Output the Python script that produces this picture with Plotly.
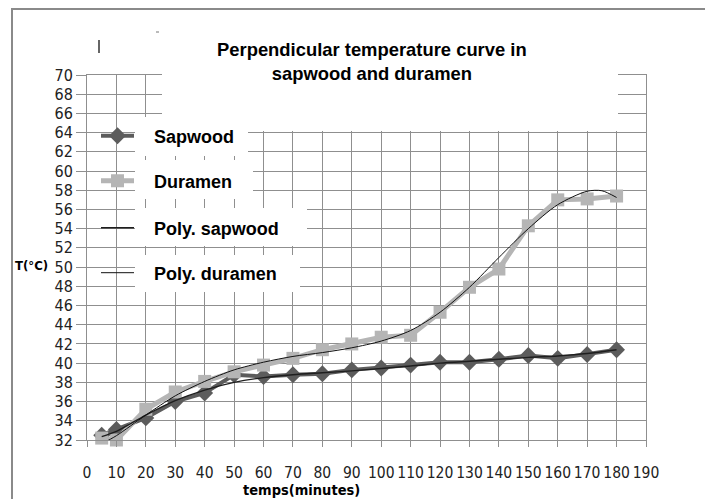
import plotly.graph_objects as go

# ---------------- data ----------------
time_min = [5, 10, 20, 30, 40, 50, 60, 70, 80, 90, 100, 110, 120, 130, 140, 150, 160, 170, 180]
sapwood = [32.5, 33.1, 34.3, 36.0, 36.9, 38.8, 38.6, 38.8, 38.9, 39.3, 39.5, 39.8, 40.1, 40.1, 40.4, 40.8, 40.5, 40.9, 41.4]
duramen = [32.2, 32.0, 35.2, 37.0, 38.1, 39.1, 39.8, 40.5, 41.4, 42.0, 42.7, 42.9, 45.3, 47.9, 49.8, 54.3, 57.0, 57.1, 57.4]

poly_sap_time = [5, 10, 20, 30, 40, 50, 60, 70, 80, 90, 100, 110, 120, 130, 140, 150, 160, 170, 180]
poly_sapwood = [32.35, 32.9, 34.6, 36.1, 37.2, 38.0, 38.5, 38.8, 39.0, 39.2, 39.45, 39.7, 40.0, 40.2, 40.4, 40.6, 40.75, 41.0, 41.4]

poly_dur_time = [5, 10, 20, 30, 40, 50, 60, 70, 80, 90, 100, 110, 120, 130, 140, 150, 160, 170, 175, 180]
poly_duramen = [31.6, 32.45, 34.6, 36.6, 38.1, 39.3, 40.1, 40.7, 41.1, 41.6, 42.3, 43.4, 45.3, 47.9, 51.0, 54.0, 56.5, 57.9, 57.95, 57.25]

x_ticks = list(range(0, 191, 10))
y_ticks = list(range(32, 71, 2))

title_lines = ["Perpendicular temperature curve in", "sapwood and duramen"]
legend_names = ["Sapwood", "Duramen", "Poly. sapwood", "Poly. duramen"]

# ---------------- geometry ----------------
# the page body has an 8px default margin, so the figure is drawn 8px smaller
# and every target pixel position below is given in window coordinates.
OFF = 8
W, H = 713 - OFF, 499 - OFF
PL, PR, PT, PB = 87, 646, 75, 440   # plot area in window pixels


def px_x(p):
    return (p - PL) / (PR - PL)


def px_y(p):
    return (PB - p) / (PB - PT)


NARROW = "DejaVu Sans Condensed, Liberation Sans Narrow, sans-serif"
ARIAL = "Arial, Liberation Sans, Helvetica, sans-serif"
GRID = "#8f8f8f"
NB = "\u00a0"

fig = go.Figure()

fig.add_trace(go.Scatter(
    x=time_min, y=sapwood, name=NB * 3 + legend_names[0], mode="lines+markers",
    line=dict(color="#5c5c5c", width=4),
    marker=dict(symbol="diamond", size=13, color="#5c5c5c"),
    cliponaxis=False, legend="legend"))
fig.add_trace(go.Scatter(
    x=time_min, y=duramen, name=NB * 3 + legend_names[1], mode="lines+markers",
    line=dict(color="#b5b5b5", width=5),
    marker=dict(symbol="square", size=13, color="#b5b5b5"),
    cliponaxis=False, legend="legend2"))
fig.add_trace(go.Scatter(
    x=poly_sap_time, y=poly_sapwood, name=NB * 3 + legend_names[2], mode="lines",
    line=dict(color="#1e1e1e", width=1.4, shape="spline", smoothing=0.8),
    legend="legend3"))
fig.add_trace(go.Scatter(
    x=poly_dur_time, y=poly_duramen, name=NB * 3 + legend_names[3], mode="lines",
    line=dict(color="#111111", width=1, shape="spline", smoothing=0.8),
    legend="legend4"))

legend_centers = [136, 181, 228, 273]
leg_common = dict(
    bgcolor="rgba(0,0,0,0)", borderwidth=0, itemwidth=33,
    font=dict(family=ARIAL, size=18, color="#000000", weight="bold"),
    xanchor="left", yanchor="middle", x=px_x(96))
layout_legends = {}
for i, cy in enumerate(legend_centers):
    key = "legend" if i == 0 else f"legend{i + 1}"
    layout_legends[key] = dict(leg_common, y=px_y(cy))

shapes = []
# outer frame
shapes.append(dict(type="rect", xref="paper", yref="paper",
                   x0=px_x(12), x1=px_x(740), y0=px_y(520), y1=px_y(9),
                   line=dict(color="#8a8a8a", width=2), fillcolor="rgba(0,0,0,0)", layer="above"))
# white box behind title
shapes.append(dict(type="rect", xref="paper", yref="paper",
                   x0=px_x(162), x1=px_x(618), y0=px_y(131), y1=px_y(15),
                   line=dict(width=0), fillcolor="white", layer="above"))
# white boxes behind legend texts
for (x0, x1, y0, y1) in [(135, 248, 117, 156), (135, 253, 160, 199),
                         (135, 307, 208, 246), (135, 300, 255, 292)]:
    shapes.append(dict(type="rect", xref="paper", yref="paper",
                       x0=px_x(x0), x1=px_x(x1), y0=px_y(y1), y1=px_y(y0),
                       line=dict(width=0), fillcolor="white", layer="above"))
# small stray fragments at top-left of the original
shapes.append(dict(type="line", xref="paper", yref="paper",
                   x0=px_x(99), x1=px_x(99), y0=px_y(53), y1=px_y(40),
                   line=dict(color="#333333", width=1.5), layer="above"))
shapes.append(dict(type="line", xref="paper", yref="paper",
                   x0=px_x(156), x1=px_x(159), y0=px_y(32), y1=px_y(32),
                   line=dict(color="#777777", width=1), layer="above"))

annotations = [
    dict(text="<br>".join(title_lines), xref="paper", yref="paper",
         x=px_x(372), y=px_y(61.5), xanchor="center", yanchor="middle",
         showarrow=False, font=dict(family=ARIAL, size=18.4, color="#000000", weight="bold")),
    dict(text="T(°C)", xref="paper", yref="paper",
         x=px_x(31), y=px_y(265), xanchor="center", yanchor="middle",
         showarrow=False, font=dict(family=NARROW, size=13, color="#000000", weight="bold")),
    dict(text="temps(minutes)", xref="paper", yref="paper",
         x=px_x(301), y=px_y(490), xanchor="center", yanchor="middle",
         showarrow=False, font=dict(family=NARROW, size=14.5, color="#000000", weight="bold")),
]

fig.update_layout(
    template="none",
    width=W, height=H,
    margin=dict(l=PL - OFF, r=W - (PR - OFF), t=PT - OFF, b=H - (PB - OFF), pad=0, autoexpand=False),
    paper_bgcolor="white", plot_bgcolor="white",
    showlegend=True,
    shapes=shapes, annotations=annotations,
    **layout_legends,
)

fig.update_xaxes(
    range=[0, 190], tickmode="array", tickvals=x_ticks, ticktext=[str(v) for v in x_ticks],
    automargin=False, tickangle=0,
    showgrid=True, gridcolor=GRID, gridwidth=1, zeroline=False,
    showline=True, linecolor=GRID, linewidth=1, mirror=True,
    ticks="outside", ticklen=6, tickcolor=GRID, tickwidth=1,
    ticklabelstandoff=12,
    tickfont=dict(family=NARROW, size=15.5, color="#222222"))
fig.update_yaxes(
    range=[32, 70], tickmode="array", tickvals=y_ticks, ticktext=[str(v) for v in y_ticks],
    automargin=False,
    showgrid=True, gridcolor=GRID, gridwidth=1, zeroline=False,
    showline=True, linecolor=GRID, linewidth=1, mirror=True,
    ticks="outside", ticklen=10, tickcolor=GRID, tickwidth=1,
    tickfont=dict(family=NARROW, size=16, color="#222222"))

fig.write_html("out.html")
